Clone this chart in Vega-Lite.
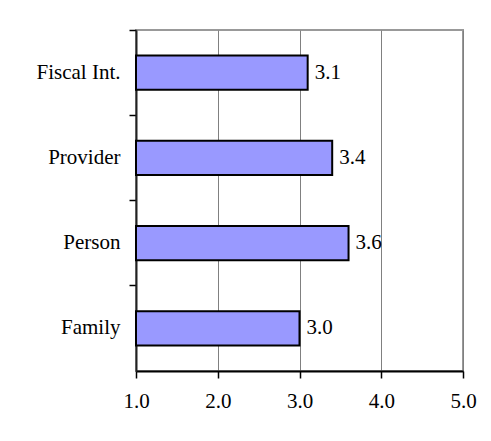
{
  "$schema": "https://vega.github.io/schema/vega-lite/v6.json",
  "width": 327,
  "height": 341,
  "autosize": {"type": "none"},
  "padding": {"left": 136, "top": 30, "right": 28, "bottom": 70},
  "background": "white",
  "data": {
    "values": [
      {"category": "Fiscal Int.", "value": 3.1},
      {"category": "Provider", "value": 3.4},
      {"category": "Person", "value": 3.6},
      {"category": "Family", "value": 3.0}
    ]
  },
  "encoding": {
    "y": {
      "field": "category",
      "type": "nominal",
      "sort": null,
      "scale": {"paddingInner": 0, "paddingOuter": 0},
      "axis": {
        "title": null,
        "bandPosition": 0,
        "grid": false,
        "ticks": true,
        "tickSize": 7,
        "tickColor": "#000",
        "tickWidth": 1.5,
        "domainColor": "#222",
        "domainWidth": 2,
        "labelFont": "'Liberation Serif', 'Times New Roman', 'DejaVu Serif', serif",
        "labelFontSize": 21,
        "labelColor": "#000",
        "labelPadding": 9
      }
    }
  },
  "layer": [
    {
      "mark": {"type": "bar", "height": {"band": 0.4}, "fill": "#9999FF", "stroke": "#000", "strokeWidth": 2},
      "encoding": {
        "x": {
          "field": "value",
          "type": "quantitative",
          "scale": {"domain": [1, 5], "zero": false, "nice": false},
          "axis": {
            "title": null,
            "values": [1, 2, 3, 4, 5],
            "format": ".1f",
            "grid": true,
            "gridColor": "#808080",
            "gridWidth": 1,
            "domainColor": "#000",
            "domainWidth": 2,
            "tickColor": "#000",
            "tickSize": 7,
            "tickWidth": 1.5,
            "labelFlush": false,
            "labelFont": "'Liberation Serif', 'Times New Roman', 'DejaVu Serif', serif",
            "labelFontSize": 21,
            "labelColor": "#000",
            "labelPadding": 12
          }
        },
        "x2": {"datum": 1}
      }
    },
    {
      "mark": {"type": "text", "align": "left", "dx": 7, "font": "'Liberation Serif', 'Times New Roman', 'DejaVu Serif', serif", "fontSize": 21, "color": "#000"},
      "encoding": {
        "x": {"field": "value", "type": "quantitative"},
        "text": {"field": "value", "type": "quantitative", "format": ".1f"}
      }
    }
  ],
  "config": {"view": {"stroke": "#999", "strokeWidth": 2}}
}
